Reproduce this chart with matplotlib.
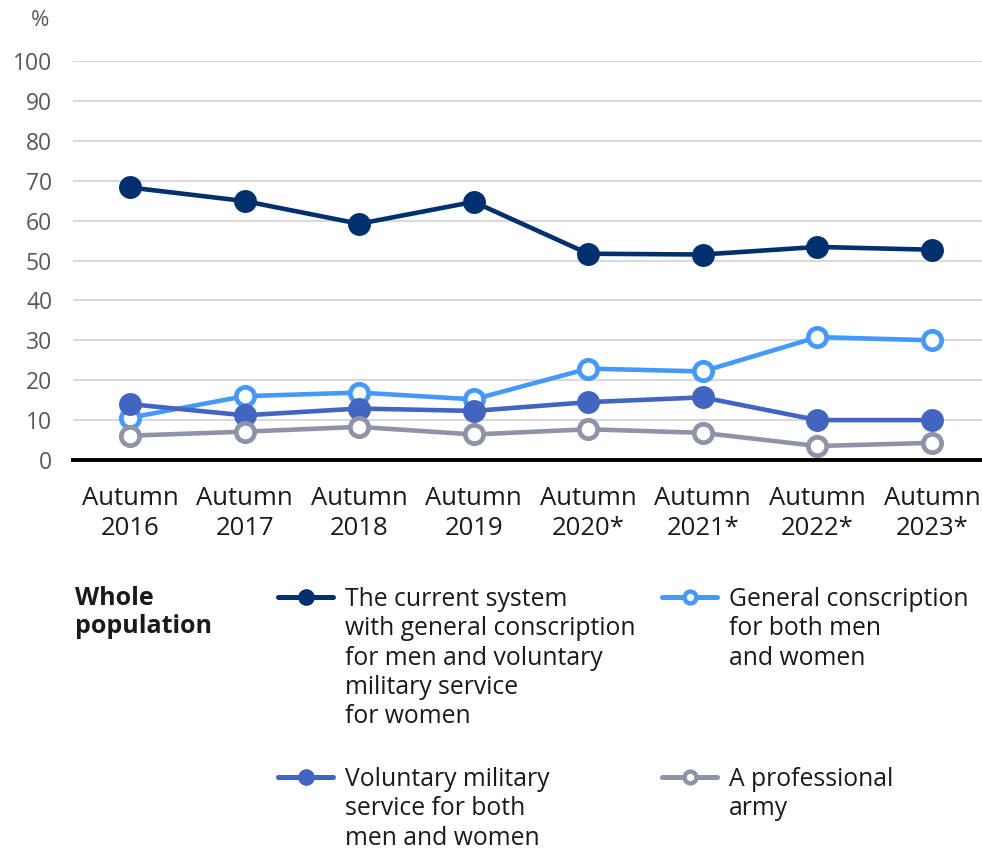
import matplotlib
matplotlib.use("Agg")
import matplotlib.pyplot as plt
from matplotlib.lines import Line2D

plt.rcParams['font.family'] = ['Open Sans', 'DejaVu Sans']

categories = ["Autumn\n2016", "Autumn\n2017", "Autumn\n2018", "Autumn\n2019",
              "Autumn\n2020*", "Autumn\n2021*", "Autumn\n2022*", "Autumn\n2023*"]
current_system = [68.3, 64.9, 59.2, 64.7, 51.7, 51.5, 53.4, 52.7]
general_both = [10.6, 16.0, 16.9, 15.2, 22.9, 22.2, 30.8, 30.0]
voluntary_both = [14.0, 11.2, 12.9, 12.3, 14.5, 15.7, 10.0, 10.0]
professional = [6.1, 7.1, 8.3, 6.4, 7.7, 6.8, 3.5, 4.3]
yticks = [0, 10, 20, 30, 40, 50, 60, 70, 80, 90, 100]

labels = ["The current system\nwith general conscription\nfor men and voluntary\nmilitary service\nfor women",
          "General conscription\nfor both men\nand women",
          "Voluntary military\nservice for both\nmen and women",
          "A professional\narmy"]

c_navy = "#00306e"
c_light = "#4499ff"
c_mid = "#4265c2"
c_gray = "#8f93a8"

W, H = 982, 850
fig = plt.figure(figsize=(W / 100, H / 100), dpi=100)
ax = fig.add_axes([73 / W, (H - 460) / H, (W - 73) / W, (460 - 61) / H])

x = list(range(len(categories)))
lw = 3.3
series = [
    (current_system, c_navy, True),
    (general_both, c_light, False),
    (voluntary_both, c_mid, True),
    (professional, c_gray, False),
]
for i, (vals, col, filled) in enumerate(series):
    if filled:
        ax.plot(x, vals, color=col, lw=lw, marker='o', ms=16.5, mfc=col, mec=col,
                mew=0, zorder=3 + i, clip_on=False)
    else:
        ax.plot(x, vals, color=col, lw=lw, marker='o', ms=13.2, mfc='white', mec=col,
                mew=3.4, zorder=3 + i, clip_on=False)

px_per_unit = (932 - 130) / 7
ax.set_xlim(-(130 - 73) / px_per_unit, 7 + (W - 932) / px_per_unit)
ax.set_ylim(0, 100)
ax.set_yticks(yticks)
ax.set_yticklabels([str(v) for v in yticks])
ax.set_xticks(x)
ax.set_xticklabels(categories, linespacing=1.3)

for s in ['top', 'right', 'left']:
    ax.spines[s].set_visible(False)
ax.spines['bottom'].set_color('black')
ax.spines['bottom'].set_linewidth(2.8)
ax.spines['bottom'].set_zorder(2.5)

ax.grid(axis='y', color='#d9d9d9', lw=1.5, zorder=0)
ax.set_axisbelow(True)
ax.tick_params(axis='y', length=0, pad=15, labelsize=16.5, labelcolor='#595959')
ax.tick_params(axis='x', length=0, pad=18.5, labelsize=18.5, labelcolor='#1a1a1a')

fig.text(40 / W, 1 - 20 / H, "%", fontsize=16, color='#595959', ha='center', va='center')

# legend
fig.text(75 / W, 1 - 586 / H, "Whole\npopulation", fontsize=18, fontweight='bold',
         color='#1a1a1a', ha='left', va='top', linespacing=1.15)

entries = [
    (labels[0], c_navy, True, 278, 597),
    (labels[1], c_light, False, 662, 597),
    (labels[2], c_mid, True, 278, 777),
    (labels[3], c_gray, False, 662, 777),
]
for text, col, filled, x0, yc in entries:
    yy = 1 - yc / H
    fig.add_artist(Line2D([x0 / W, (x0 + 55) / W], [yy, yy], color=col, lw=3.6,
                          solid_capstyle='round', transform=fig.transFigure))
    if filled:
        fig.add_artist(Line2D([(x0 + 27.5) / W], [yy], marker='o', ms=12, mfc=col,
                              mec=col, mew=0, transform=fig.transFigure))
    else:
        fig.add_artist(Line2D([(x0 + 27.5) / W], [yy], marker='o', ms=8.5, mfc='white',
                              mec=col, mew=3.2, transform=fig.transFigure))
    fig.text((x0 + 67) / W, 1 - (yc - 10) / H, text, fontsize=17.8, color='#1a1a1a',
             ha='left', va='top', linespacing=1.23)

fig.savefig("out.png", dpi=100)
